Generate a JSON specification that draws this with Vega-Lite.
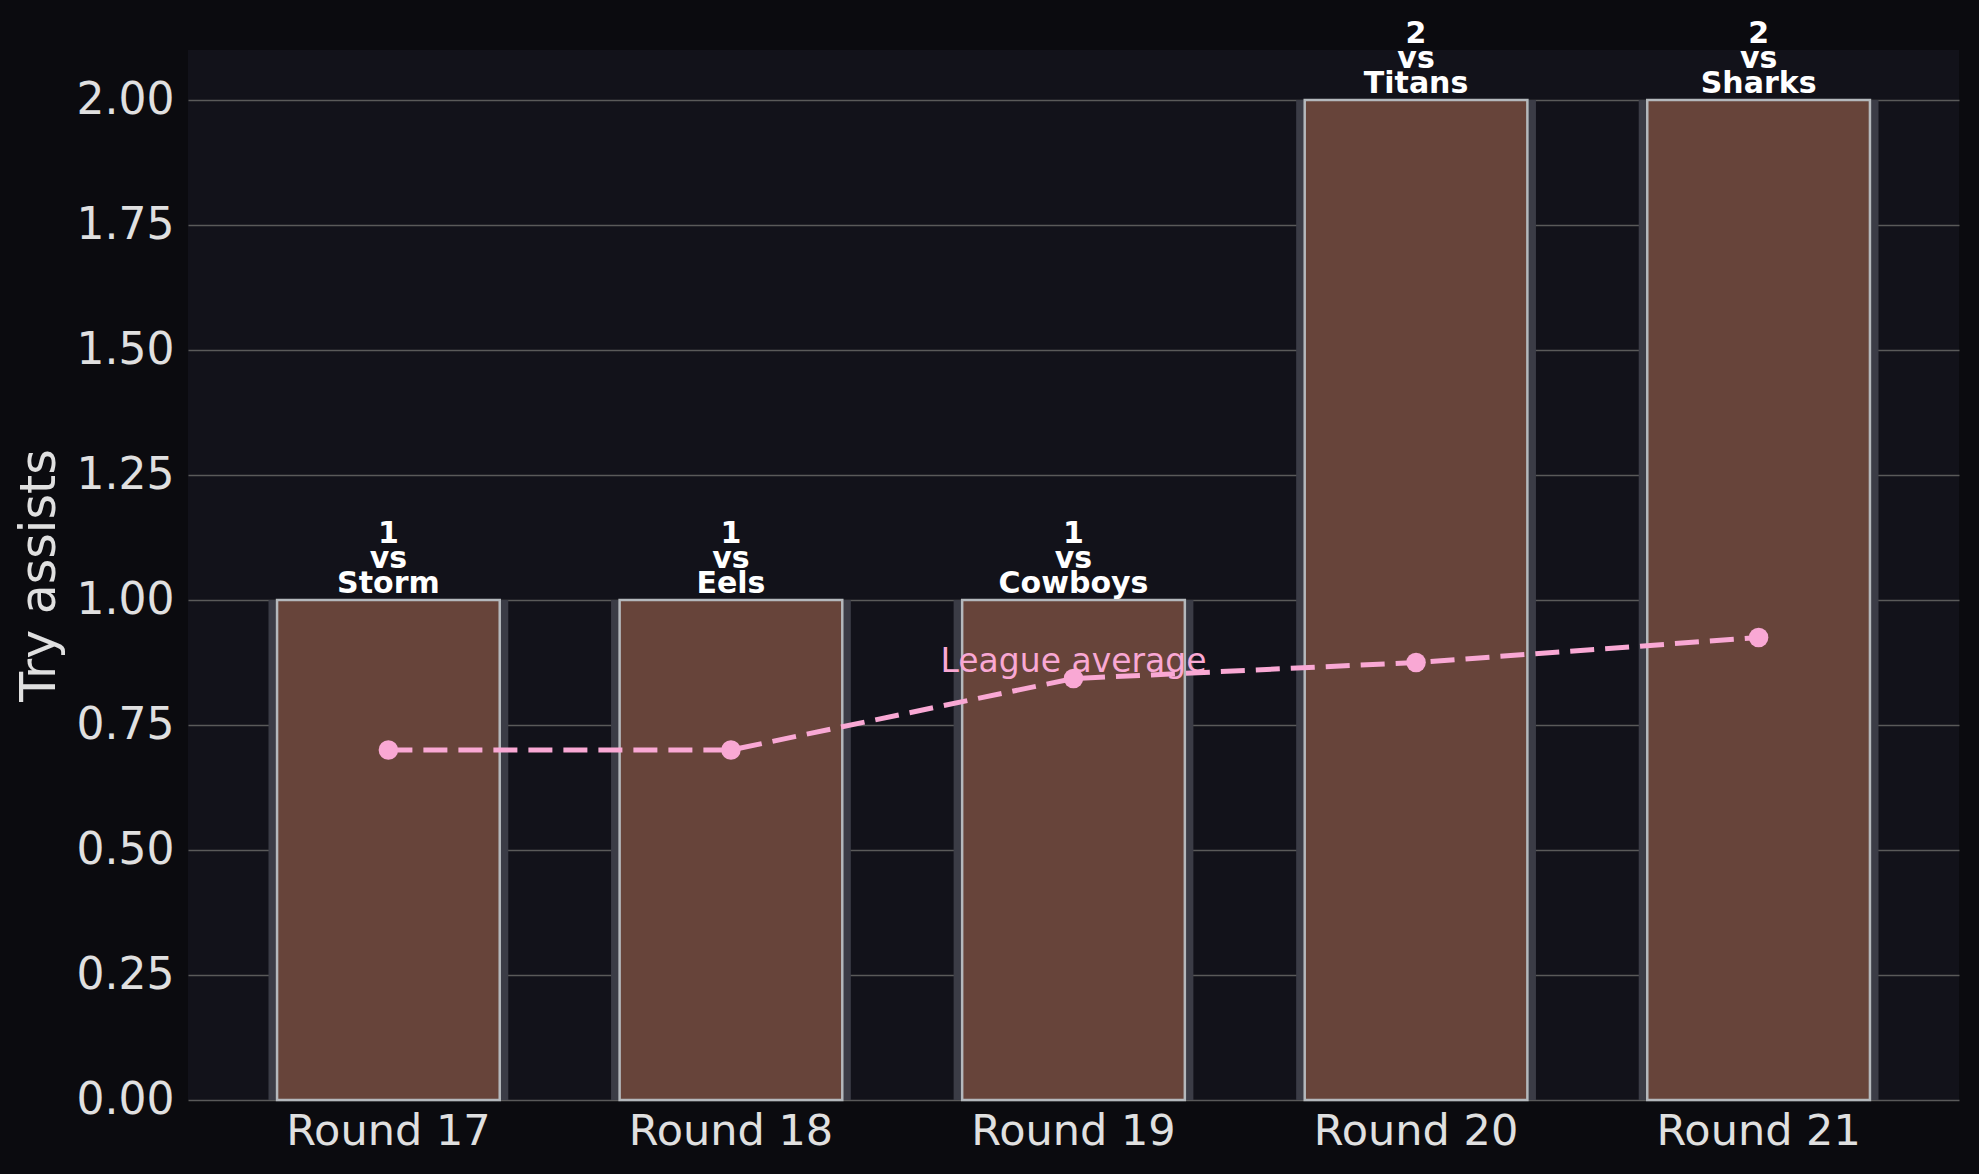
{
  "$schema": "https://vega.github.io/schema/vega-lite/v6.json",
  "description": "Try assists per round with league average",
  "width": 1771,
  "height": 1050,
  "autosize": {"type": "none"},
  "padding": {"left": 188, "top": 50, "right": 20, "bottom": 74},
  "background": "#0b0b0f",
  "config": {
    "view": {"fill": "#12121a", "stroke": null},
    "font": "DejaVu Sans"
  },
  "data": {
    "values": [
      {"round": "Round 17", "assists": 1, "opponent": "Storm", "league_avg": 0.70},
      {"round": "Round 18", "assists": 1, "opponent": "Eels", "league_avg": 0.70},
      {"round": "Round 19", "assists": 1, "opponent": "Cowboys", "league_avg": 0.843},
      {"round": "Round 20", "assists": 2, "opponent": "Titans", "league_avg": 0.875},
      {"round": "Round 21", "assists": 2, "opponent": "Sharks", "league_avg": 0.925}
    ]
  },
  "encoding": {
    "x": {
      "field": "round",
      "type": "nominal",
      "sort": null,
      "scale": {"paddingInner": 0.3, "paddingOuter": 0.235},
      "axis": {
        "title": null,
        "labelAngle": 0,
        "labelLimit": 0,
        "domain": false,
        "ticks": false,
        "labelFontSize": 43,
        "labelColor": "#e0e0e0",
        "labelPadding": 10
      }
    }
  },
  "layer": [
    {
      "mark": {"type": "bar", "color": "#3b3c46"},
      "encoding": {
        "y": {
          "field": "assists",
          "type": "quantitative",
          "scale": {"domain": [0, 2.1], "nice": false, "zero": true},
          "axis": {
            "values": [0, 0.25, 0.5, 0.75, 1, 1.25, 1.5, 1.75, 2],
            "format": ".2f",
            "grid": true,
            "gridColor": "#5a5a5a",
            "gridWidth": 1.5,
            "domain": false,
            "ticks": false,
            "labelFontSize": 44,
            "labelColor": "#e0e0e0",
            "labelPadding": 14,
            "title": "Try assists",
            "titleFontSize": 49,
            "titleFontWeight": "normal",
            "titleColor": "#e0e0e0",
            "titlePadding": 12
          }
        }
      }
    },
    {
      "mark": {
        "type": "bar",
        "fill": "#67443a",
        "stroke": "#b4b8bc",
        "strokeWidth": 2.5,
        "width": {"band": 0.9286}
      },
      "encoding": {
        "y": {"field": "assists", "type": "quantitative"}
      }
    },
    {
      "mark": {
        "type": "line",
        "color": "#f9a8d4",
        "strokeWidth": 5,
        "strokeDash": [24, 11]
      },
      "encoding": {
        "y": {"field": "league_avg", "type": "quantitative"}
      }
    },
    {
      "mark": {"type": "circle", "color": "#f9a8d4", "opacity": 1, "size": 380},
      "encoding": {
        "y": {"field": "league_avg", "type": "quantitative"}
      }
    },
    {
      "transform": [{"filter": "datum.round === 'Round 19'"}],
      "mark": {
        "type": "text",
        "text": "League average",
        "color": "#f9a8d4",
        "fontSize": 33,
        "baseline": "alphabetic",
        "dy": -7
      },
      "encoding": {
        "y": {"field": "league_avg", "type": "quantitative"}
      }
    },
    {
      "mark": {
        "type": "text",
        "color": "#ffffff",
        "fontSize": 30,
        "fontWeight": "bold",
        "baseline": "alphabetic",
        "dy": -7
      },
      "encoding": {
        "y": {"field": "assists", "type": "quantitative"},
        "text": {"field": "opponent", "type": "nominal"}
      }
    },
    {
      "mark": {
        "type": "text",
        "text": "vs",
        "color": "#ffffff",
        "fontSize": 30,
        "fontWeight": "bold",
        "baseline": "alphabetic",
        "dy": -32
      },
      "encoding": {
        "y": {"field": "assists", "type": "quantitative"}
      }
    },
    {
      "mark": {
        "type": "text",
        "color": "#ffffff",
        "fontSize": 30,
        "fontWeight": "bold",
        "baseline": "alphabetic",
        "dy": -57
      },
      "encoding": {
        "y": {"field": "assists", "type": "quantitative"},
        "text": {"field": "assists", "type": "quantitative", "format": "d"}
      }
    }
  ]
}
